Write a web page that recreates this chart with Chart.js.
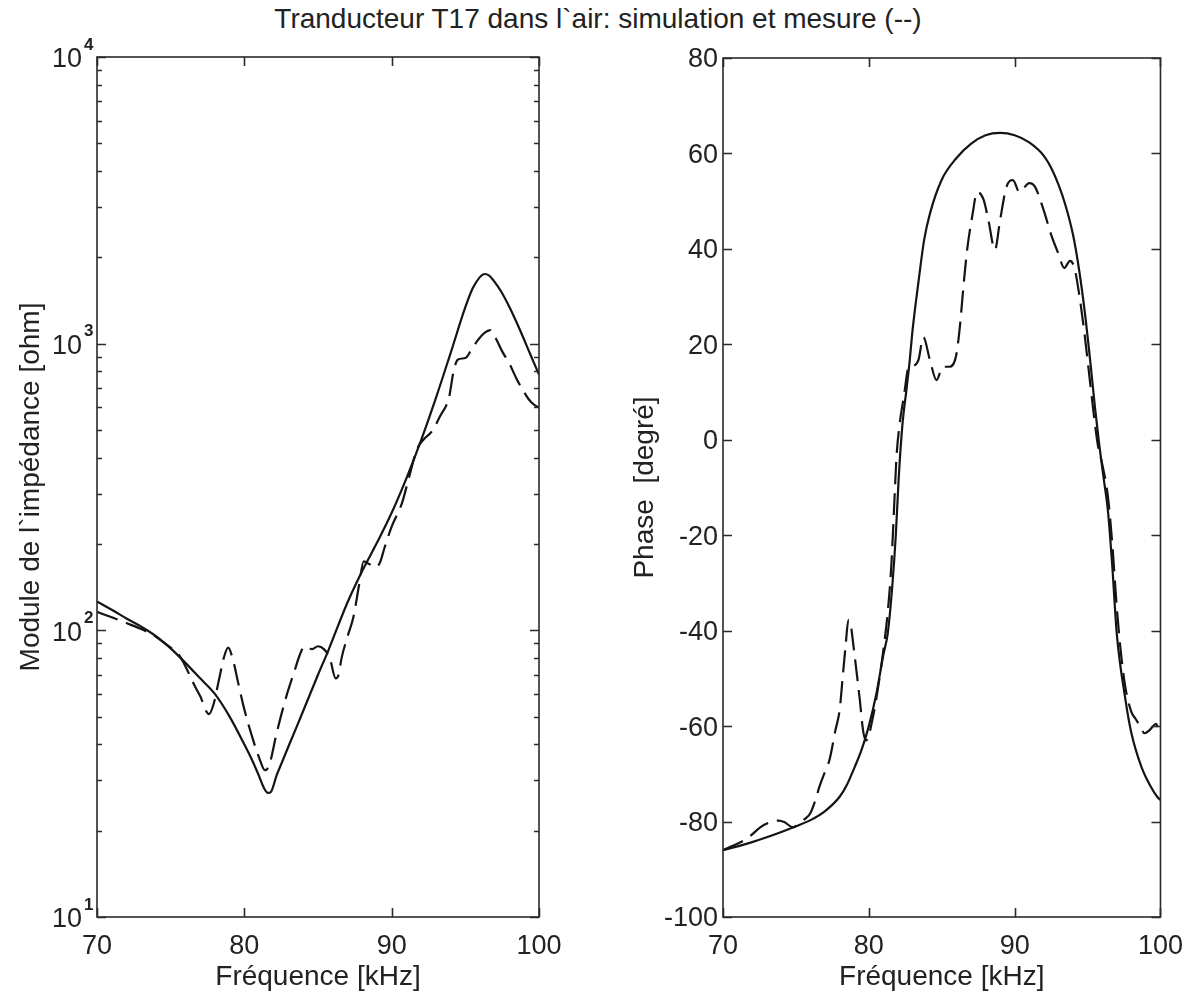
<!DOCTYPE html>
<html><head><meta charset="utf-8">
<script src="https://cdn.jsdelivr.net/npm/chart.js@4.4.1/dist/chart.umd.min.js"></script>
<style>
html,body{margin:0;padding:0;background:#fff;width:1196px;height:1001px;overflow:hidden;}
#title{position:absolute;left:0;top:3px;width:1196px;text-align:center;font-family:"Liberation Sans",Arial,sans-serif;font-size:28px;line-height:32px;color:#222;white-space:pre;}
#cA{position:absolute;left:0;top:0;}
#cB{position:absolute;left:600px;top:0;}
</style></head><body>
<div id="title">Tranducteur T17 dans l`air: simulation et mesure (--)</div>
<canvas id="cA" width="600" height="1001"></canvas>
<canvas id="cB" width="596" height="1001"></canvas>
<script>
// ---- tick values ----
const freqTicks = [70, 80, 90, 100];
const modTicks = [10, 100, 1000, 10000];
const phaseTicks = [-100, -80, -60, -40, -20, 0, 20, 40, 60, 80];

// ---- left plot: impedance modulus [ohm] ----
const simModFreq = [70,71,72,73,74,75,76,77,78,79,80,80.5,81,81.3,81.6,81.8,82.2,82.5,83,83.5,84,85,85.7,86,87,88,89,90,91,92,93,94,95,95.5,96,96.3,96.6,97,97.5,98,98.5,99,99.5,100];
const simModVal  = [126,118,110,103,95.5,86.5,77,68,60,50,40,35.5,31,28.4,27.1,27.3,31.3,34.1,39.4,45.4,52.4,70,85,93,125,161,202,257,339,461,646,927,1340,1560,1710,1750,1730,1640,1500,1340,1180,1030,895,780];

const mesModFreq = [70,71,72,73,74,74.5,75,75.5,76,76.5,77,77.6,77.9,78.3,78.6,78.9,79.2,79.6,80,80.5,81,81.4,81.7,82.2,82.9,83.4,83.8,84.1,84.6,85,85.4,85.8,86.2,86.4,86.6,87,87.4,87.8,88.1,88.5,88.9,89.2,89.5,90,90.7,91.2,91.7,92.2,92.7,93.3,93.9,94.2,94.5,95,95.4,95.8,96.3,96.7,97,97.5,98,98.5,98.9,99.3,99.7,100];
const mesModVal  = [116,111,106,101,95,91,87,83,75,66,59,51,55,68,80,87,80,65,53,43,36,32.5,34,44,60,72,83,88,86,88,86,80,68,70,80,95,111,145,174,170,166,172,193,230,278,345,426,465,492,560,652,800,880,891,950,1020,1090,1115,1060,940,850,750,690,640,610,600];

// ---- right plot: phase [degree] ----
const simPhFreq = [70,71,72,73,74,75,76,77,78,78.5,79,79.5,80,80.5,81,81.3,81.6,81.85,82.05,82.3,82.6,82.8,83,83.4,83.8,84.2,85,86,87,88,89,90,91,92,92.5,93,93.5,94,94.4,94.8,95.2,95.5,95.8,96.1,96.4,96.7,97,97.6,98,98.7,99.3,99.8,100];
const simPhVal  = [-86,-85.2,-84.3,-83.3,-82.2,-81,-79.7,-77.8,-74.8,-72.3,-68.8,-65,-60,-53.5,-45,-40.5,-31,-20,-8,3,11,16.5,23,33,42,47.5,54.5,59,62,63.8,64.3,63.8,62.3,59.5,57,53.5,49,43,36,27,16,7,-1,-8,-15,-26.7,-40.5,-54.5,-61.4,-68.6,-72.5,-74.9,-75.5];

const mesPhFreq = [70,70.5,71.1,71.8,72.6,73.3,73.8,74.2,74.8,75.2,75.6,76,76.4,76.6,77,77.3,77.7,78,78.2,78.4,78.6,78.75,78.9,79.2,79.4,79.6,79.8,80,80.2,80.5,81,81.3,81.55,81.75,81.9,82.1,82.4,82.74,82.96,83.4,83.74,84.19,84.64,85.08,85.53,85.97,86.2,86.53,86.75,87.1,87.43,87.87,88.2,88.65,89,89.44,89.88,90.33,91,91.4,92,92.5,93,93.4,93.8,94.1,94.4,94.8,95.1,95.4,95.7,96,96.4,96.7,97,97.3,97.6,98,98.3,98.6,98.9,99.2,99.5,99.7,99.85,100];
const mesPhVal  = [-86,-85.3,-84.5,-83.2,-81.1,-80.1,-79.8,-80.1,-81.2,-80.5,-79.5,-78.2,-74.9,-72.8,-69.5,-67.1,-61,-56.6,-50,-43.4,-37.8,-38.5,-42,-49.7,-55,-60.8,-63,-62,-59.3,-54.5,-44,-36,-26,-13,-3.5,3,9,15.3,15.5,16.7,21.5,16.7,12.5,15.3,15.3,17.4,22.4,33.5,40,47,51.9,50.3,46,39.8,46,53,54.4,51.9,53.8,53,48,43,39,36,37.5,36,31,22,14,6,-1,-5,-12,-22,-35,-45,-52,-57,-58.5,-60,-61.5,-61,-60,-59.5,-60.5,-61];

// ---- texts ----
const xTitle = 'Fréquence [kHz]';
const yTitleMod = 'Module de l`impédance [ohm]';
const yTitlePh = 'Phase  [degré]';

const FONT = '"Liberation Sans", Arial, Helvetica, sans-serif';
Chart.defaults.font.family = FONT;
Chart.defaults.color = '#222';

function pts(xs, ys) { return xs.map((x, i) => ({ x: x, y: ys[i] })); }

const INK = '#141414';
function lineSet(data, dashed) {
  return {
    data: data, borderColor: INK, borderWidth: 2.2, pointRadius: 0,
    cubicInterpolationMode: 'monotone', fill: false,
    borderDash: dashed ? [22, 9] : [], borderCapStyle: 'butt', borderJoinStyle: 'round'
  };
}

// frame + inward ticks (Matlab style box), drawn through the chart's scales
const framePlugin = {
  id: 'frame',
  afterDatasetsDraw(chart, args, opts) {
    const { ctx, chartArea: a, scales } = chart;
    const xs = scales.x, ys = scales.y;
    ctx.save();
    ctx.strokeStyle = '#2a2a2a';
    ctx.lineWidth = 1.6;
    ctx.strokeRect(a.left, a.top, a.right - a.left, a.bottom - a.top);
    ctx.beginPath();
    const L = 9, l = 5;
    xs.ticks.forEach(t => {
      const p = Math.round(xs.getPixelForValue(t.value)) + 0.5;
      ctx.moveTo(p, a.bottom); ctx.lineTo(p, a.bottom - L);
      ctx.moveTo(p, a.top); ctx.lineTo(p, a.top + L);
    });
    ys.ticks.forEach(t => {
      const p = Math.round(ys.getPixelForValue(t.value)) + 0.5;
      ctx.moveTo(a.left, p); ctx.lineTo(a.left + L, p);
      ctx.moveTo(a.right, p); ctx.lineTo(a.right - L, p);
    });
    (opts.minor || []).forEach(v => {
      const p = Math.round(ys.getPixelForValue(v)) + 0.5;
      ctx.moveTo(a.left, p); ctx.lineTo(a.left + l, p);
      ctx.moveTo(a.right, p); ctx.lineTo(a.right - l, p);
    });
    ctx.stroke();
    if (opts.exponents) {
      ctx.fillStyle = '#222';
      ctx.font = 'bold 17px ' + FONT;
      ctx.textAlign = 'left';
      ctx.textBaseline = 'middle';
      ys.ticks.forEach(t => {
        const p = ys.getPixelForValue(t.value);
        ctx.fillText(String(Math.round(Math.log10(t.value))), a.left - 13, p - 12);
      });
    }
    ctx.restore();
  }
};

// minor log ticks 2..9 per decade
const minorMod = [];
for (let i = 0; i < modTicks.length - 1; i++) for (let k = 2; k <= 9; k++) minorMod.push(modTicks[i] * k);

function xScale() {
  return {
    type: 'linear', min: 70, max: 100,
    afterBuildTicks: s => { s.ticks = freqTicks.map(v => ({ value: v })); },
    afterFit: s => { s.height = 84; },
    grid: { display: false, drawTicks: false },
    border: { display: false },
    ticks: { font: { size: 27 }, padding: 13, color: '#222', maxRotation: 0 },
    title: { display: true, text: xTitle, font: { size: 28 }, color: '#222', padding: { top: 0, bottom: 7 } }
  };
}

new Chart(document.getElementById('cA'), {
  type: 'line',
  data: { datasets: [lineSet(pts(simModFreq, simModVal), false), lineSet(pts(mesModFreq, mesModVal), true)] },
  options: {
    responsive: false, animation: false, devicePixelRatio: 1,
    layout: { padding: { left: 10, top: 57, right: 61, bottom: 0 } },
    plugins: { legend: { display: false }, tooltip: { enabled: false }, frame: { minor: minorMod, exponents: true } },
    scales: {
      x: xScale(),
      y: {
        type: 'logarithmic', min: 10, max: 10000,
        afterBuildTicks: s => { s.ticks = modTicks.map(v => ({ value: v })); },
        afterFit: s => { s.width = 87; },
        grid: { display: false, drawTicks: false },
        border: { display: false },
        ticks: { font: { size: 27 }, padding: 15, color: '#222', labelOffset: 3, callback: () => '10' },
        title: { display: true, text: yTitleMod, font: { size: 28 }, color: '#222', padding: { top: 4, bottom: 0 } }
      }
    }
  },
  plugins: [framePlugin]
});

new Chart(document.getElementById('cB'), {
  type: 'line',
  data: { datasets: [lineSet(pts(simPhFreq, simPhVal), false), lineSet(pts(mesPhFreq, mesPhVal), true)] },
  options: {
    responsive: false, animation: false, devicePixelRatio: 1,
    layout: { padding: { left: 24, top: 58, right: 30, bottom: 0 } },
    plugins: { legend: { display: false }, tooltip: { enabled: false }, frame: {} },
    scales: {
      x: xScale(),
      y: {
        type: 'linear', min: -100, max: 80,
        afterBuildTicks: s => { s.ticks = phaseTicks.map(v => ({ value: v })); },
        afterFit: s => { s.width = 99; },
        grid: { display: false, drawTicks: false },
        border: { display: false },
        ticks: { font: { size: 27 }, padding: 5, color: '#222', labelOffset: 2 },
        title: { display: true, text: yTitlePh, font: { size: 28 }, color: '#222', padding: { top: 4, bottom: 0 } }
      }
    }
  },
  plugins: [framePlugin]
});
</script>
</body></html>
